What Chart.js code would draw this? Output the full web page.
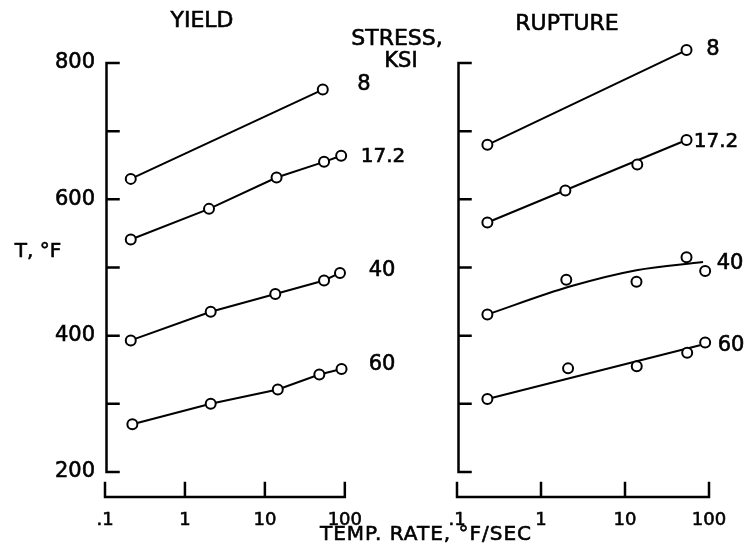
<!DOCTYPE html>
<html>
<head>
<meta charset="utf-8">
<script src="https://cdn.jsdelivr.net/npm/chart.js@4.4.1/dist/chart.umd.min.js"></script>
<style>
  body { margin: 0; background: #fff; }
  #wrap { position: relative; width: 750px; height: 559px; overflow: hidden; font-family: "DejaVu Sans", sans-serif; color: #000; }
  canvas { position: absolute; top: 0; }
  #yieldChart { left: 0; }
  #ruptureChart { left: 375px; }
  .lbl { position: absolute; transform: translate(-50%, -50%); white-space: nowrap; line-height: 1; -webkit-text-stroke: 0.6px #000; }
</style>
</head>
<body>
<div id="wrap">
  <canvas id="yieldChart" width="375" height="559"></canvas>
  <canvas id="ruptureChart" width="375" height="559"></canvas>

  <div class="lbl" style="left:202px;top:20px;font-size:22px">YIELD</div>
  <div class="lbl" style="left:567px;top:23px;font-size:22px">RUPTURE</div>
  <div class="lbl" style="left:397px;top:38px;font-size:22px">STRESS,</div>
  <div class="lbl" style="left:401px;top:60px;font-size:21px">KSI</div>
  <div class="lbl" style="left:38px;top:250px;font-size:20px">T, °F</div>
  <div class="lbl" style="left:426px;top:533px;font-size:20px;letter-spacing:1px">TEMP. RATE, °F/SEC</div>

  <div class="lbl" style="left:364px;top:83px;font-size:21px">8</div>
  <div class="lbl" style="left:383px;top:155px;font-size:20px">17.2</div>
  <div class="lbl" style="left:382px;top:269px;font-size:21px">40</div>
  <div class="lbl" style="left:382px;top:363px;font-size:21px">60</div>

  <div class="lbl" style="left:713px;top:48px;font-size:21px">8</div>
  <div class="lbl" style="left:716px;top:140px;font-size:20px">17.2</div>
  <div class="lbl" style="left:730px;top:262px;font-size:21px">40</div>
  <div class="lbl" style="left:731px;top:344px;font-size:21px">60</div>
</div>

<script>
// axes
const rateTicks = [0.1, 1, 10, 100];
const rateTickLabels = ['.1', '1', '10', '100'];
const tempTicks = [200, 300, 400, 500, 600, 700, 800];
const tempTickLabels = ['200', '', '400', '', '600', '', '800'];

// YIELD - temperature (F) vs heating rate (F/sec), per stress level (ksi)
const yield8Rate = [0.21, 53];
const yield8Temp = [630, 761];
const yield17Rate = [0.21, 2.0, 14, 55, 90];
const yield17Temp = [541, 586, 632, 655, 664];
const yield40Rate = [0.21, 2.1, 13.5, 55, 87];
const yield40Temp = [393, 435, 461, 481, 492];
const yield60Rate = [0.22, 2.1, 14.5, 48, 91];
const yield60Temp = [270, 300, 321, 343, 351];

// RUPTURE - test points
const rup8Rate = [0.23, 54];
const rup8Temp = [680, 819];
const rup17Rate = [0.23, 1.95, 14, 54];
const rup17Temp = [566, 613, 651, 687];
const rup40Rate = [0.23, 2.0, 13.7, 54, 90];
const rup40Temp = [431, 482, 479, 515, 495];
const rup60Rate = [0.23, 2.1, 13.8, 55, 90];
const rup60Temp = [307, 352, 355, 375, 390];

// RUPTURE - faired curves
const rup8FitRate = [0.23, 54];
const rup8FitTemp = [680, 819];
const rup17FitRate = [0.23, 54];
const rup17FitTemp = [566, 687];
const rup40FitRate = [0.23, 2.2, 13.7, 85];
const rup40FitTemp = [431, 472, 496, 508];
const rup60FitRate = [0.23, 78];
const rup60FitTemp = [307, 386];

const family = '"DejaVu Sans", sans-serif';

function pts(xs, ys) {
  return xs.map((x, i) => ({ x: x, y: ys[i] }));
}

function markers(xs, ys, joined) {
  return {
    data: pts(xs, ys),
    showLine: joined,
    borderColor: '#000',
    borderWidth: 2,
    pointRadius: 5,
    pointBorderWidth: 2,
    pointBackgroundColor: '#fff',
    pointBorderColor: '#000',
    tension: 0,
    clip: false,
    order: 1
  };
}

function fitLine(xs, ys, curved) {
  return {
    data: pts(xs, ys),
    borderColor: '#000',
    borderWidth: 2,
    pointRadius: 0,
    tension: curved ? 0.4 : 0,
    cubicInterpolationMode: curved ? 'monotone' : 'default',
    clip: false,
    order: 2
  };
}

// axis lines with inward ticks, y stops at 200 / 800 like the drawing
const frame = {
  id: 'frame',
  beforeDatasetsDraw(chart) {
    const { ctx, scales: { x, y } } = chart;
    const left = x.getPixelForValue(rateTicks[0]);
    const right = x.getPixelForValue(rateTicks[rateTicks.length - 1]);
    const top = y.getPixelForValue(tempTicks[tempTicks.length - 1]);
    const bot = y.getPixelForValue(tempTicks[0]);
    const base = chart.chartArea.bottom;
    const yx = left + 1.5;
    ctx.save();
    ctx.strokeStyle = '#000';
    ctx.lineWidth = 2.5;
    ctx.lineCap = 'square';
    ctx.beginPath();
    ctx.moveTo(yx, top);
    ctx.lineTo(yx, bot);
    tempTicks.forEach(v => {
      const py = y.getPixelForValue(v);
      ctx.moveTo(yx, py);
      ctx.lineTo(yx + 12, py);
    });
    ctx.moveTo(left, base);
    ctx.lineTo(right, base);
    rateTicks.forEach(v => {
      const px = x.getPixelForValue(v);
      ctx.moveTo(px, base);
      ctx.lineTo(px, base - 14);
    });
    ctx.stroke();
    ctx.restore();
  }
};

function panel(id, datasets, yWidth, padRight, showTemp) {
  return new Chart(document.getElementById(id), {
    type: 'line',
    data: { datasets: datasets },
    options: {
      responsive: false,
      animation: false,
      devicePixelRatio: 1,
      layout: { padding: { left: 0, right: padRight, top: 42.55, bottom: 0 } },
      plugins: { legend: { display: false }, tooltip: { enabled: false } },
      scales: {
        x: {
          type: 'logarithmic',
          min: 0.1,
          max: 100,
          afterBuildTicks: s => { s.ticks = rateTicks.map(v => ({ value: v })); },
          afterFit: s => { s.height = 62; },
          grid: { display: false, drawTicks: false },
          border: { display: false },
          ticks: {
            autoSkip: false,
            maxRotation: 0,
            padding: 13,
            color: '#000',
            textStrokeColor: '#000',
            textStrokeWidth: 0.6,
            font: { family: family, size: 18 },
            callback: (v, i) => rateTickLabels[i]
          }
        },
        y: {
          type: 'linear',
          min: 163.3,
          max: 830,
          afterBuildTicks: s => { s.ticks = tempTicks.map(v => ({ value: v })); },
          afterFit: s => { s.width = yWidth; },
          grid: { display: false, drawTicks: false },
          border: { display: false },
          ticks: {
            padding: 10,
            color: '#000',
            textStrokeColor: '#000',
            textStrokeWidth: 0.6,
            font: { family: family, size: 21 },
            callback: (v, i) => showTemp ? tempTickLabels[i] : ''
          }
        }
      }
    },
    plugins: [frame]
  });
}

panel('yieldChart', [
  markers(yield8Rate, yield8Temp, true),
  markers(yield17Rate, yield17Temp, true),
  markers(yield40Rate, yield40Temp, true),
  markers(yield60Rate, yield60Temp, true)
], 105, 19, true);

panel('ruptureChart', [
  fitLine(rup8FitRate, rup8FitTemp, false),
  fitLine(rup17FitRate, rup17FitTemp, false),
  fitLine(rup40FitRate, rup40FitTemp, true),
  fitLine(rup60FitRate, rup60FitTemp, false),
  markers(rup8Rate, rup8Temp, false),
  markers(rup17Rate, rup17Temp, false),
  markers(rup40Rate, rup40Temp, false),
  markers(rup60Rate, rup60Temp, false)
], 82, 41, false);
</script>
</body>
</html>
